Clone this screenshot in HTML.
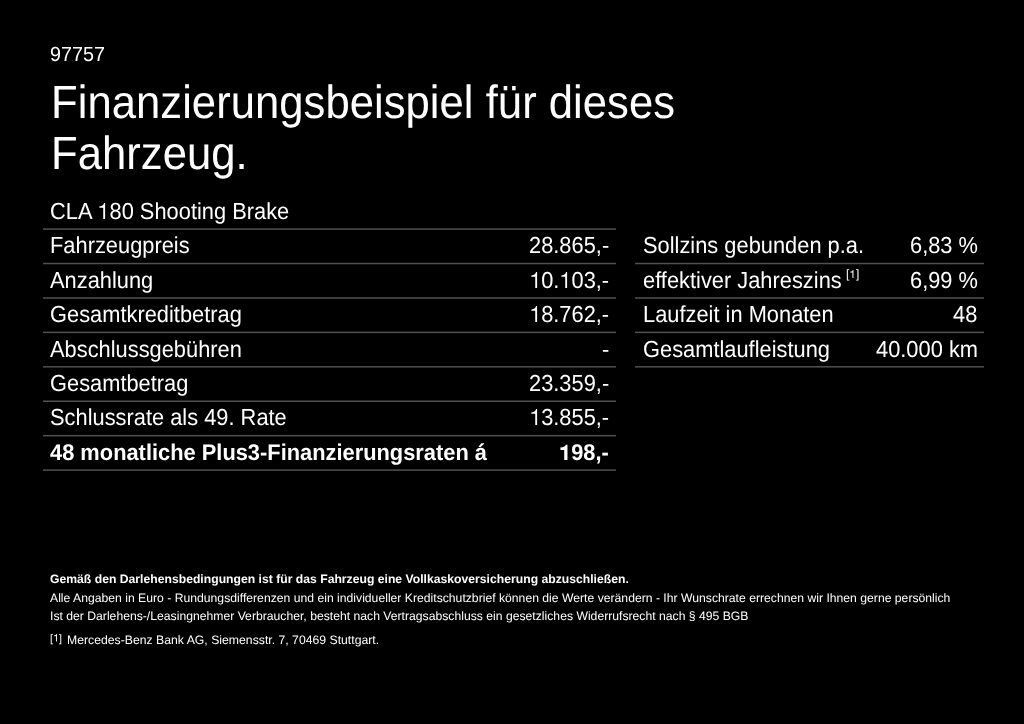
<!DOCTYPE html>
<html><head><meta charset="utf-8">
<style>
html,body{margin:0;padding:0;background:#000;}
body{width:1024px;height:724px;position:relative;overflow:hidden;color:#fff;font-family:"Liberation Sans",sans-serif;}
.t{position:absolute;white-space:nowrap;}
.lines{position:absolute;left:0;top:0;fill:#505050;}
.w{position:absolute;left:0;top:0;width:1024px;height:724px;will-change:transform;}
.one{display:inline-block;vertical-align:baseline;width:0.5561em;height:0.709em;fill:#fff;}
</style></head><body><div class="w">
<svg class="lines" width="1024" height="724" viewBox="0 0 1024 724"><rect x="43" y="228.35" width="573" height="1.5"/><rect x="43" y="262.78" width="573" height="1.5"/><rect x="43" y="297.21" width="573" height="1.5"/><rect x="43" y="331.64" width="573" height="1.5"/><rect x="43" y="366.07" width="573" height="1.5"/><rect x="43" y="400.50" width="573" height="1.5"/><rect x="43" y="434.93" width="573" height="1.5"/><rect x="43" y="469.36" width="573" height="1.5"/><rect x="635" y="262.78" width="349" height="1.5"/><rect x="635" y="297.21" width="349" height="1.5"/><rect x="635" y="331.64" width="349" height="1.5"/><rect x="635" y="366.07" width="349" height="1.5"/></svg>
<div class="t" style="top:41.300px;font-size:19.78px;line-height:26px;left:49.900px;transform:scaleY(1.035) skewX(0.1deg);transform-origin:0 20.000px;">97757</div>
<div class="t" style="top:74.400px;font-size:43.7px;line-height:57px;left:50.600px;transform:scaleY(1.066) skewX(0.1deg);transform-origin:0 44.000px;">Finanzierungsbeispiel für dieses</div>
<div class="t" style="top:125.400px;font-size:43.7px;line-height:57px;left:50.600px;transform:scaleY(1.066) skewX(0.1deg);transform-origin:0 44.000px;">Fahrzeug.</div>
<div class="t" style="top:196.900px;font-size:21.85px;line-height:29px;left:50.200px;transform:scaleY(1.06) skewX(0.1deg);transform-origin:0 22.000px;">CLA <svg class="one" viewBox="0 0 1139 1452"><path d="M762 1452L586 1452L586 418L223 418L223 291Q454 262 543 197Q631 131 668 0L762 0Z"/></svg>80 Shooting Brake</div>
<div class="t" style="top:231.330px;font-size:21.85px;line-height:29px;left:50.200px;transform:scaleY(1.06) skewX(0.1deg);transform-origin:0 22.000px;">Fahrzeugpreis</div>
<div class="t" style="top:231.330px;font-size:21.85px;line-height:29px;right:415.000px;transform:scaleY(1.06) skewX(0.1deg);transform-origin:0 22.000px;">28.865,-</div>
<div class="t" style="top:265.760px;font-size:21.85px;line-height:29px;left:50.200px;transform:scaleY(1.06) skewX(0.1deg);transform-origin:0 22.000px;">Anzahlung</div>
<div class="t" style="top:265.760px;font-size:21.85px;line-height:29px;right:415.000px;transform:scaleY(1.06) skewX(0.1deg);transform-origin:0 22.000px;"><svg class="one" viewBox="0 0 1139 1452"><path d="M762 1452L586 1452L586 418L223 418L223 291Q454 262 543 197Q631 131 668 0L762 0Z"/></svg>0.<svg class="one" viewBox="0 0 1139 1452"><path d="M762 1452L586 1452L586 418L223 418L223 291Q454 262 543 197Q631 131 668 0L762 0Z"/></svg>03,-</div>
<div class="t" style="top:300.190px;font-size:21.85px;line-height:29px;left:50.200px;transform:scaleY(1.06) skewX(0.1deg);transform-origin:0 22.000px;">Gesamtkreditbetrag</div>
<div class="t" style="top:300.190px;font-size:21.85px;line-height:29px;right:415.000px;transform:scaleY(1.06) skewX(0.1deg);transform-origin:0 22.000px;"><svg class="one" viewBox="0 0 1139 1452"><path d="M762 1452L586 1452L586 418L223 418L223 291Q454 262 543 197Q631 131 668 0L762 0Z"/></svg>8.762,-</div>
<div class="t" style="top:334.620px;font-size:21.85px;line-height:29px;left:50.200px;transform:scaleY(1.06) skewX(0.1deg);transform-origin:0 22.000px;">Abschlussgebühren</div>
<div class="t" style="top:334.620px;font-size:21.85px;line-height:29px;right:415.000px;transform:scaleY(1.06) skewX(0.1deg);transform-origin:0 22.000px;">-</div>
<div class="t" style="top:369.050px;font-size:21.85px;line-height:29px;left:50.200px;transform:scaleY(1.06) skewX(0.1deg);transform-origin:0 22.000px;">Gesamtbetrag</div>
<div class="t" style="top:369.050px;font-size:21.85px;line-height:29px;right:415.000px;transform:scaleY(1.06) skewX(0.1deg);transform-origin:0 22.000px;">23.359,-</div>
<div class="t" style="top:403.480px;font-size:21.85px;line-height:29px;left:50.200px;transform:scaleY(1.06) skewX(0.1deg);transform-origin:0 22.000px;">Schlussrate als 49. Rate</div>
<div class="t" style="top:403.480px;font-size:21.85px;line-height:29px;right:415.000px;transform:scaleY(1.06) skewX(0.1deg);transform-origin:0 22.000px;"><svg class="one" viewBox="0 0 1139 1452"><path d="M762 1452L586 1452L586 418L223 418L223 291Q454 262 543 197Q631 131 668 0L762 0Z"/></svg>3.855,-</div>
<div class="t" style="top:438.310px;font-size:21.85px;line-height:29px;font-weight:bold;left:50.200px;transform:scaleY(1.04) skewX(0.1deg);transform-origin:0 22.000px;">48 monatliche Plus3-Finanzierungsraten á</div>
<div class="t" style="top:438.310px;font-size:21.85px;line-height:29px;font-weight:bold;right:415.000px;transform:scaleY(1.04) skewX(0.1deg);transform-origin:0 22.000px;"><svg class="one" viewBox="0 0 1139 1452"><path d="M797 1452L489 1452L489 508L135 508L135 287Q381 281 506 197Q616 121 641 0L797 0Z"/></svg>98,-</div>
<div class="t" style="top:231.330px;font-size:21.85px;line-height:29px;left:642.900px;transform:scaleY(1.06) skewX(0.1deg);transform-origin:0 22.000px;">Sollzins gebunden p.a.</div>
<div class="t" style="top:231.330px;font-size:21.85px;line-height:29px;right:46.400px;transform:scaleY(1.06) skewX(0.1deg);transform-origin:0 22.000px;">6,83 %</div>
<div class="t" style="top:265.760px;font-size:21.85px;line-height:29px;left:642.900px;transform:scaleY(1.06) skewX(0.1deg);transform-origin:0 22.000px;">effektiver Jahreszins</div>
<div class="t" style="top:265.760px;font-size:21.85px;line-height:29px;right:46.400px;transform:scaleY(1.06) skewX(0.1deg);transform-origin:0 22.000px;">6,99 %</div>
<div class="t" style="top:266.360px;font-size:12px;line-height:16px;left:846.400px;transform:scaleY(1.0) skewX(0.1deg);transform-origin:0 12.000px;">[<svg class="one" viewBox="0 0 1139 1452"><path d="M762 1452L586 1452L586 418L223 418L223 291Q454 262 543 197Q631 131 668 0L762 0Z"/></svg>]</div>
<div class="t" style="top:300.190px;font-size:21.85px;line-height:29px;left:642.900px;transform:scaleY(1.06) skewX(0.1deg);transform-origin:0 22.000px;">Laufzeit in Monaten</div>
<div class="t" style="top:300.190px;font-size:21.85px;line-height:29px;right:46.400px;transform:scaleY(1.06) skewX(0.1deg);transform-origin:0 22.000px;">48</div>
<div class="t" style="top:334.620px;font-size:21.85px;line-height:29px;left:642.900px;transform:scaleY(1.06) skewX(0.1deg);transform-origin:0 22.000px;">Gesamtlaufleistung</div>
<div class="t" style="top:334.620px;font-size:21.85px;line-height:29px;right:46.400px;transform:scaleY(1.06) skewX(0.1deg);transform-origin:0 22.000px;">40.000 km</div>
<div class="t" style="top:570.500px;font-size:12.19px;line-height:16px;font-weight:bold;left:49.900px;transform:scaleY(1.0) skewX(0.1deg);transform-origin:0 12.000px;">Gemäß den Darlehensbedingungen ist für das Fahrzeug eine Vollkaskoversicherung abzuschließen.</div>
<div class="t" style="top:590.200px;font-size:12.19px;line-height:16px;left:49.900px;transform:scaleY(1.0) skewX(0.1deg);transform-origin:0 12.000px;">Alle Angaben in Euro - Rundungsdifferenzen und ein individueller Kreditschutzbrief können die Werte verändern - Ihr Wunschrate errechnen wir Ihnen gerne persönlich</div>
<div class="t" style="top:607.900px;font-size:12.19px;line-height:16px;left:49.900px;transform:scaleY(1.0) skewX(0.1deg);transform-origin:0 12.000px;">Ist der Darlehens-/Leasingnehmer Verbraucher, besteht nach Vertragsabschluss ein gesetzliches Widerrufsrecht nach § 495 BGB</div>
<div class="t" style="top:630.800px;font-size:10.7px;line-height:14px;left:49.600px;transform:scaleY(1.0) skewX(0.1deg);transform-origin:0 11.000px;">[<svg class="one" viewBox="0 0 1139 1452"><path d="M762 1452L586 1452L586 418L223 418L223 291Q454 262 543 197Q631 131 668 0L762 0Z"/></svg>]</div>
<div class="t" style="top:631.800px;font-size:12.24px;line-height:16px;left:66.900px;transform:scaleY(1.0) skewX(0.1deg);transform-origin:0 12.000px;">Mercedes-Benz Bank AG, Siemensstr. 7, 70469 Stuttgart.</div>
</div></body></html>
